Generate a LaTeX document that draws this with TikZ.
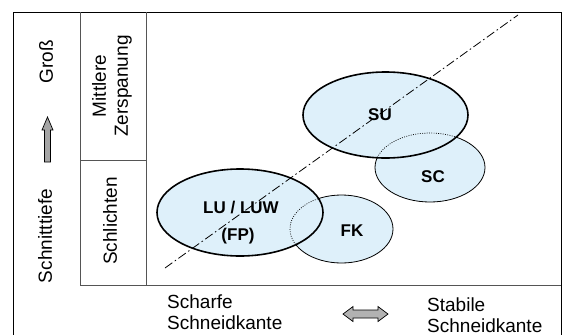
\documentclass[tikz,border=0pt]{standalone}
\usepackage{fontspec}
\setmainfont{Liberation Sans}
\usetikzlibrary{shapes.geometric}
\definecolor{ellfill}{RGB}{222,240,250}
\definecolor{framegray}{RGB}{85,85,85}
\definecolor{arrowfill}{RGB}{165,165,165}
\begin{document}
\begin{tikzpicture}[x=1pt,y=-1pt,
  bigell/.style={ellipse, draw=black, fill=ellfill, line width=1.6pt, inner sep=0pt},
  smallell/.style={ellipse, draw=black, fill=ellfill, line width=0.8pt, inner sep=0pt},
  hidden/.style={draw=black, line width=0.7pt, dash pattern=on 0.9pt off 1.4pt},
  lab/.style={font=\bfseries\fontsize{17}{20}\selectfont, inner sep=0pt},
  txt/.style={font=\fontsize{19}{22}\selectfont, inner sep=0pt},
  btxt/.style={font=\fontsize{19}{21}\selectfont, inner sep=0pt},
  inner/.style={draw=framegray, line width=0.9pt},
  axisline/.style={draw=black, line width=0.8pt, dash pattern=on 9pt off 3pt on 1.5pt off 3pt}]
\useasboundingbox (0,0) rectangle (563,335);
% frames
\draw[black, line width=0.9pt] (13,340) -- (13,12) -- (561,12) -- (561,340);
\draw[inner] (80,12) -- (80,285);
\draw[inner] (146,12) -- (146,285);
\draw[inner] (80,160) -- (146,160);
\draw[inner] (80,285) -- (561,285);
% ellipses
\node[smallell, minimum width=110pt, minimum height=69pt] (sc) at (430,167.5) {};
\node[bigell, minimum width=165pt, minimum height=86pt] (su) at (385.5,115) {};
\begin{scope}
  \clip (su.center) ellipse [x radius=82.5pt, y radius=43pt];
  \draw[hidden] (sc.center) ellipse [x radius=55pt, y radius=34.5pt];
\end{scope}
\node[smallell, minimum width=103pt, minimum height=68pt] (fk) at (341.5,229) {};
\node[bigell, minimum width=166pt, minimum height=87pt] (lu) at (240,212.5) {};
\begin{scope}
  \clip (lu.center) ellipse [x radius=83pt, y radius=43.5pt];
  \draw[hidden] (fk.center) ellipse [x radius=51.5pt, y radius=34pt];
\end{scope}
% diagonal
\coordinate (d1) at (165,268);
\coordinate (d2) at (518,15);
\draw[axisline] (d1) -- (d2);
% ellipse labels
\node[lab] (tsu) at (380,115) {SU};
\node[lab] (tsc) at (433,177) {SC};
\node[lab] (tlu) at (241,208) {LU / LUW};
\node[lab] (tfp) at (238,236) {(FP)};
\node[lab] (tfk) at (352,231) {FK};
% left texts
\node[txt, rotate=90] (tschn) at (45,236) {Schnitttiefe};
\node[txt, rotate=90] (tgross) at (46,62) {Groß};
\node[txt, rotate=90, align=center] (tmz) at (112,86) {Mittlere\\Zerspanung};
\node[txt, rotate=90] (tschl) at (110,221) {Schlichten};
% up arrow
\draw[black, line width=0.7pt, fill=arrowfill]
  (44.5,162) -- (44.5,130) -- (42,130) -- (47.5,117) -- (53,130) -- (50.5,130) -- (50.5,162) -- cycle;
% bottom texts
\node[btxt, anchor=north west, align=left] (tscharf) at (167,295) {Scharfe\\Schneidkante};
\node[btxt, anchor=north west, align=left] (tstab) at (427,298) {Stabile\\Schneidkante};
% double arrow
\draw[black, line width=0.7pt, fill=arrowfill!85!white]
  (343,314) -- (353,306.5) -- (353,310) -- (378,310) -- (378,306.5) -- (388,314)
  -- (378,321.5) -- (378,318) -- (353,318) -- (353,321.5) -- cycle;
\end{tikzpicture}
\end{document}
